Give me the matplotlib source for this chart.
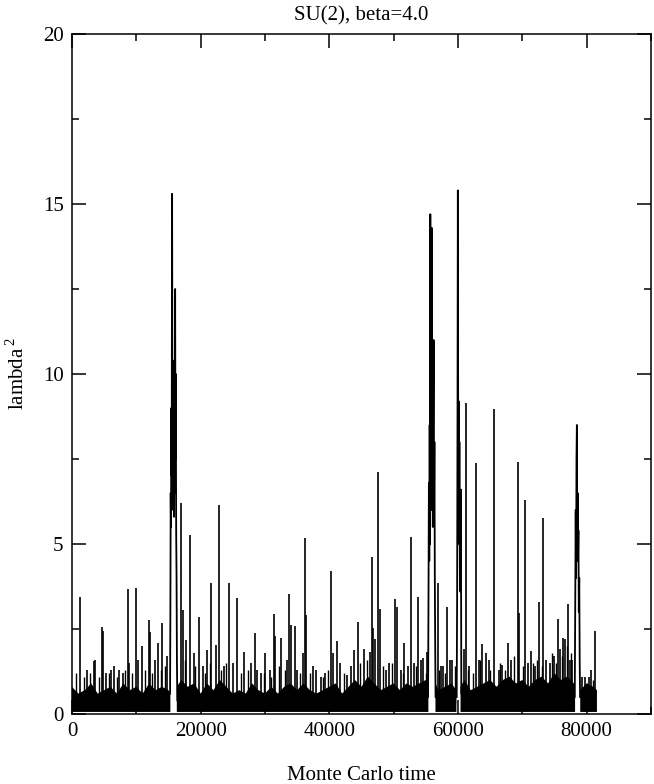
import numpy as np
import matplotlib
matplotlib.use("Agg")
import matplotlib.pyplot as plt
from matplotlib.ticker import MultipleLocator

plt.rcParams['font.family'] = ['Liberation Serif', 'DejaVu Serif']
plt.rcParams['mathtext.fontset'] = 'custom'
plt.rcParams['mathtext.rm'] = 'Liberation Serif'

# dense low-value band (upper envelope), NaN where the band is interrupted
band_t = [0, 1000, 2000, 3000, 4000, 5000, 6000, 7000, 8000, 9000, 10000, 11000,
          12000, 13000, 14000, 15000, 15300, 15900, 16300, 17000, 18000, 19000,
          20000, 21000, 22000, 23000, 24000, 25000, 26000, 27000, 28000, 29000,
          30000, 31000, 32000, 33000, 34000, 35000, 36000, 37000, 38000, 39000,
          40000, 41000, 42000, 43000, 44000, 45000, 46000, 47000, 48000, 49000,
          50000, 51000, 52000, 53000, 54000, 55000, 55400, 56000, 56500, 57000,
          58000, 59000, 59750, 60100, 60400, 61000, 62000, 63000, 64000, 65000,
          66000, 67000, 68000, 69000, 70000, 71000, 72000, 73000, 74000, 75000,
          76000, 77000, 78000, 78200, 78600, 79000, 80000, 81000, 81600]
band_top = [0.8, 0.6, 0.7, 0.9, 0.6, 0.7, 0.8, 0.6, 0.9, 0.7, 0.8, 0.6,
            0.9, 0.7, 0.8, 0.7, 0.6, np.nan, 0.8, 1.0, 0.8, 0.9,
            0.6, 0.9, 0.7, 1.0, 0.8, 0.6, 0.7, 0.6, 0.9, 0.7,
            0.6, 0.8, 0.6, 0.8, 0.9, 0.7, 0.9, 0.7, 0.6, 0.7,
            0.8, 0.9, 0.6, 0.8, 1.0, 0.8, 1.1, 0.9, 0.7, 0.8,
            0.9, 0.7, 0.9, 0.8, 0.9, 1.0, 0.8, np.nan, 0.9, 0.7,
            0.8, 0.9, 0.7, np.nan, 0.8, 1.0, 0.7, 0.8, 0.9, 1.0,
            0.8, 1.0, 1.1, 0.9, 1.0, 0.8, 1.0, 1.1, 0.9, 1.2,
            1.0, 1.1, 0.9, 0.8, np.nan, 0.7, 0.9, 0.8, 0.7]

# isolated spikes
spike_t = [1240, 2300, 3400, 3600, 4600, 4800, 5300, 6050, 6600, 7300, 7900, 8640,
           8900, 9930, 10200, 10900, 11900, 12200, 12900, 13400, 14070, 14700,
           16900, 17280, 17800, 18410, 18960, 19750, 20300, 21060, 21680, 22350,
           22860, 23650, 24360, 25000, 25710, 26800, 27900, 28400, 28800, 29400,
           30050, 30800, 31450, 31600, 32540, 33400, 33780, 34100, 34660, 35000,
           35850, 36260, 36400, 37500, 38000, 38700, 39400, 40300, 40500, 41170,
           41600, 42700, 43300, 43900, 44430, 45470, 46250, 46560, 46870, 47150,
           47540, 47900, 48800, 49300, 50180, 50600, 51200, 51670, 52200, 52650,
           53100, 53850, 54200, 54630, 55150, 56850, 57400, 57700, 58350, 58800,
           59100, 60900, 61250, 61700, 62750, 63200, 63720, 64400, 64800, 65650,
           66300, 66900, 67750, 68200, 69270, 69500, 70450, 70900, 71330, 72000,
           72620, 73250, 73700, 74300, 74900, 75470, 75900, 76350, 76600, 77070,
           77400, 77800, 79300, 79770, 80300, 80700, 81300]
spike_v = [3.45, 1.3, 1.55, 1.6, 2.56, 2.45, 1.2, 1.3, 1.4, 1.3, 1.2, 3.67,
           1.5, 3.7, 1.6, 2.0, 2.75, 2.4, 1.6, 2.1, 2.67, 1.7,
           6.2, 3.06, 2.18, 5.26, 1.8, 2.86, 1.4, 1.88, 3.84, 2.03,
           6.15, 1.4, 3.84, 1.5, 3.4, 1.83, 1.5, 2.37, 1.3, 1.2,
           1.79, 1.3, 2.93, 2.3, 2.23, 1.6, 3.52, 2.62, 2.59, 1.3,
           1.8, 5.19, 2.9, 1.4, 1.3, 1.1, 1.2, 4.22, 1.8, 2.16,
           1.5, 1.15, 1.4, 1.88, 2.72, 1.91, 1.83, 4.63, 2.52, 2.2,
           7.13, 3.1, 1.3, 1.5, 3.38, 3.16, 1.3, 2.1, 1.4, 5.2,
           1.5, 3.45, 1.6, 1.64, 1.83, 3.84, 1.4, 1.4, 3.16, 1.6,
           1.6, 1.9, 9.14, 1.4, 7.37, 1.6, 2.05, 1.79, 1.6, 8.96,
           1.3, 1.44, 2.08, 1.6, 7.42, 2.97, 6.3, 1.5, 1.86, 1.4,
           3.3, 5.75, 1.6, 1.5, 1.7, 2.8, 1.9, 2.23, 2.2, 3.23,
           1.6, 1.6, 1.1, 1.1, 1.1, 1.3, 2.45]

# small excursions just above the band
small_t = [700, 1800, 2800, 4200, 5700, 7000, 8300, 9400, 11300, 12500, 13800, 14400,
           17600, 19200, 20700, 21400, 23200, 24000, 26200, 27300, 29800, 31000,
           32200, 33100, 35400, 37000, 39000, 39800, 42300, 44800, 45900, 48300,
           49800, 51500, 53500, 55000, 57100, 58000, 59500, 61500, 62300, 63500,
           65000, 66600, 67300, 68700, 70100, 71700, 72300, 73000, 74600, 75200,
           76100, 76900, 77600, 80000, 81000]
small_v = [1.2, 1.1, 1.2, 1.1, 1.2, 1.1, 1.3, 1.2, 1.3, 1.2, 1.3, 1.4,
           1.6, 1.4, 1.2, 1.5, 1.3, 1.5, 1.2, 1.3, 1.2, 1.1,
           1.4, 1.3, 1.2, 1.2, 1.1, 1.3, 1.2, 1.5, 1.6, 1.4,
           1.5, 1.2, 1.4, 1.2, 1.3, 1.2, 1.4, 1.3, 1.2, 1.6,
           1.3, 1.5, 1.3, 1.7, 1.4, 1.5, 1.6, 1.4, 1.8, 1.5,
           1.7, 2.0, 1.8, 0.9, 1.0]

# episodes with large lambda^2
ep1_t = [15250, 15300, 15350, 15400, 15450, 15500, 15570, 15620, 15680, 15740, 15800,
         15860, 15920, 15980, 16040, 16090, 16140, 16200, 16260, 16320, 16380]
ep1_v = [0.6, 3.0, 6.5, 5.5, 9.0, 7.0, 15.3, 8.0, 10.4, 6.0, 9.5,
         5.8, 8.5, 6.5, 12.5, 7.5, 10.0, 5.4, 4.0, 1.5, 0.4]
ep2_t = [55350, 55420, 55480, 55540, 55600, 55660, 55700, 55760, 55820, 55880, 55910,
         55970, 56030, 56090, 56150, 56220, 56280, 56340, 56400, 56460, 56520]
ep2_v = [0.5, 3.5, 6.8, 4.5, 8.5, 5.0, 14.7, 7.0, 9.5, 6.0, 14.3,
         7.5, 9.7, 5.5, 8.5, 11.0, 6.0, 8.0, 4.0, 2.0, 0.5]
ep3_t = [59800, 59870, 59930, 59980, 60040, 60100, 60160, 60220, 60300, 60380, 60450, 60520]
ep3_v = [0.5, 3.5, 9.0, 15.4, 7.5, 9.2, 5.0, 8.0, 4.0, 3.6, 6.6, 0.6]
ep4_t = [78150, 78220, 78300, 78360, 78420, 78480, 78540, 78600, 78660, 78720, 78780,
         78850, 78920, 78980]
ep4_v = [0.5, 3.0, 6.0, 4.0, 7.5, 8.5, 5.0, 6.5, 4.5, 5.4, 3.0, 4.0, 1.5, 0.5]

fig = plt.figure(figsize=(6.54, 7.84), dpi=100)
ax = fig.add_axes([0.110, 0.0893, 0.8854, 0.8673])

ax.fill_between(band_t, 0.06, band_top, color='black', lw=0)
ax.vlines(small_t, 0.3, small_v, color='black', lw=1.0)
ax.vlines(spike_t, 0.3, spike_v, color='black', lw=1.2)
for t, v in [(ep1_t, ep1_v), (ep2_t, ep2_v), (ep3_t, ep3_v), (ep4_t, ep4_v)]:
    ax.plot(t, v, color='black', lw=1.3)

ax.set_xlim(0, 90000)
ax.set_ylim(0, 20)
ax.xaxis.set_major_locator(MultipleLocator(20000))
ax.xaxis.set_minor_locator(MultipleLocator(10000))
ax.yaxis.set_major_locator(MultipleLocator(5))
ax.yaxis.set_minor_locator(MultipleLocator(2.5))
ax.tick_params(which='both', direction='in', top=True, right=True, width=1.1,
               labelsize=15)
ax.tick_params(which='major', length=10, pad=6)
ax.tick_params(which='minor', length=5)
for s in ax.spines.values():
    s.set_linewidth(1.1)

ax.set_title('SU(2), beta=4.0', fontsize=15, pad=10)
ax.set_xlabel('Monte Carlo time', fontsize=15, labelpad=18)
ax.set_ylabel('lambda$^{\\,2}$', fontsize=15, labelpad=10)

fig.savefig('out.png', dpi=100)
